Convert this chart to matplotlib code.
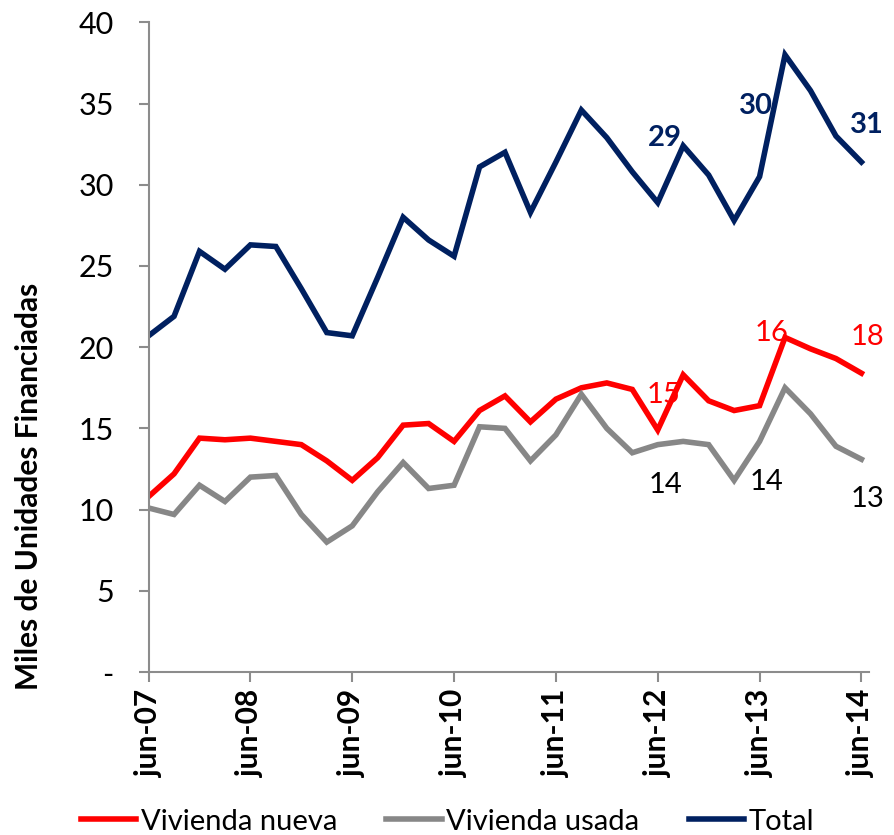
import matplotlib
matplotlib.use('Agg')
import matplotlib.pyplot as plt

plt.rcParams['font.family'] = ['Lato', 'DejaVu Sans']

# Trimestres jun-07 .. jun-14 (29 puntos)
periods = ['jun-07', 'sep-07', 'dic-07', 'mar-08', 'jun-08', 'sep-08', 'dic-08', 'mar-09',
           'jun-09', 'sep-09', 'dic-09', 'mar-10', 'jun-10', 'sep-10', 'dic-10', 'mar-11',
           'jun-11', 'sep-11', 'dic-11', 'mar-12', 'jun-12', 'sep-12', 'dic-12', 'mar-13',
           'jun-13', 'sep-13', 'dic-13', 'mar-14', 'jun-14']

nueva = [10.8, 12.2, 14.4, 14.3, 14.4, 14.2, 14.0, 13.0, 11.8, 13.2, 15.2, 15.3, 14.2, 16.1, 17.0,
         15.4, 16.8, 17.5, 17.8, 17.4, 14.9, 18.3, 16.7, 16.1, 16.4, 20.6, 19.9, 19.3, 18.4]
usada = [10.1, 9.7, 11.5, 10.5, 12.0, 12.1, 9.7, 8.0, 9.0, 11.1, 12.9, 11.3, 11.5, 15.1, 15.0,
         13.0, 14.6, 17.1, 15.0, 13.5, 14.0, 14.2, 14.0, 11.8, 14.2, 17.5, 15.9, 13.9, 13.1]
total = [20.7, 21.9, 25.9, 24.8, 26.3, 26.2, 23.6, 20.9, 20.7, 24.3, 28.0, 26.6, 25.6, 31.1, 32.0,
         28.3, 31.4, 34.6, 32.9, 30.8, 28.9, 32.4, 30.6, 27.8, 30.5, 38.0, 35.8, 33.0, 31.4]

# etiquetas de datos: (indice, texto, desplazamiento en pixeles)
lab_total = [(20, '29', (7, 65)), (24, '30', (-4, 71)), (28, '31', (6, 37))]
lab_nueva = [(20, '15', (6, 35)), (24, '16', (12, 73)), (28, '18', (6, 36))]
lab_usada = [(20, '14', (8, -40)), (24, '14', (7, -41)), (28, '13', (6, -40))]

c_nueva = '#FF0000'
c_usada = '#878787'
c_total = '#002060'

fig = plt.figure(figsize=(8.95, 8.35), dpi=100)
ax = fig.add_axes([0.166, 0.1952, 0.805, 0.778])

x = list(range(len(periods)))
ax.plot(x, nueva, color=c_nueva, lw=4, label='Vivienda nueva', solid_joinstyle='miter')
ax.plot(x, usada, color=c_usada, lw=4, label='Vivienda usada', solid_joinstyle='miter')
ax.plot(x, total, color=c_total, lw=4, label='Total', solid_joinstyle='miter')

for i, t, off in lab_total:
    ax.annotate(t, (i, total[i]), xytext=off, textcoords='offset pixels',
                ha='center', va='center', fontsize=21, fontweight='bold', color=c_total)
for i, t, off in lab_nueva:
    ax.annotate(t, (i, nueva[i]), xytext=off, textcoords='offset pixels',
                ha='center', va='center', fontsize=21, color=c_nueva)
for i, t, off in lab_usada:
    ax.annotate(t, (i, usada[i]), xytext=off, textcoords='offset pixels',
                ha='center', va='center', fontsize=21, color='black')

ax.set_xlim(0, 28.3)
ax.set_ylim(0, 40)
ax.set_yticks(range(0, 41, 5))
ax.set_yticklabels(['-'] + [str(v) for v in range(5, 41, 5)], fontsize=22)
ax.set_xticks(x[::4])
ax.set_xticklabels(periods[::4], rotation=90, fontsize=21.5, fontweight='bold')

for s in ['top', 'right']:
    ax.spines[s].set_visible(False)
for s in ['left', 'bottom']:
    ax.spines[s].set_color('#8c8c8c')
    ax.spines[s].set_linewidth(1.5)
ax.tick_params(axis='both', color='#8c8c8c', width=1.5, length=7, direction='out')
ax.tick_params(axis='y', pad=18)
ax.tick_params(axis='x', pad=6)

ax.set_ylabel('Miles de Unidades Financiadas', fontsize=21.5, fontweight='bold')
ax.yaxis.set_label_coords(-0.147, 0.285)

fig.legend(loc='center', bbox_to_anchor=(0.5, 0.016), ncol=3, frameon=False, fontsize=21,
           handlelength=1.9, handletextpad=0.15, columnspacing=1.7, borderaxespad=0)

fig.savefig('out.png', dpi=100)
